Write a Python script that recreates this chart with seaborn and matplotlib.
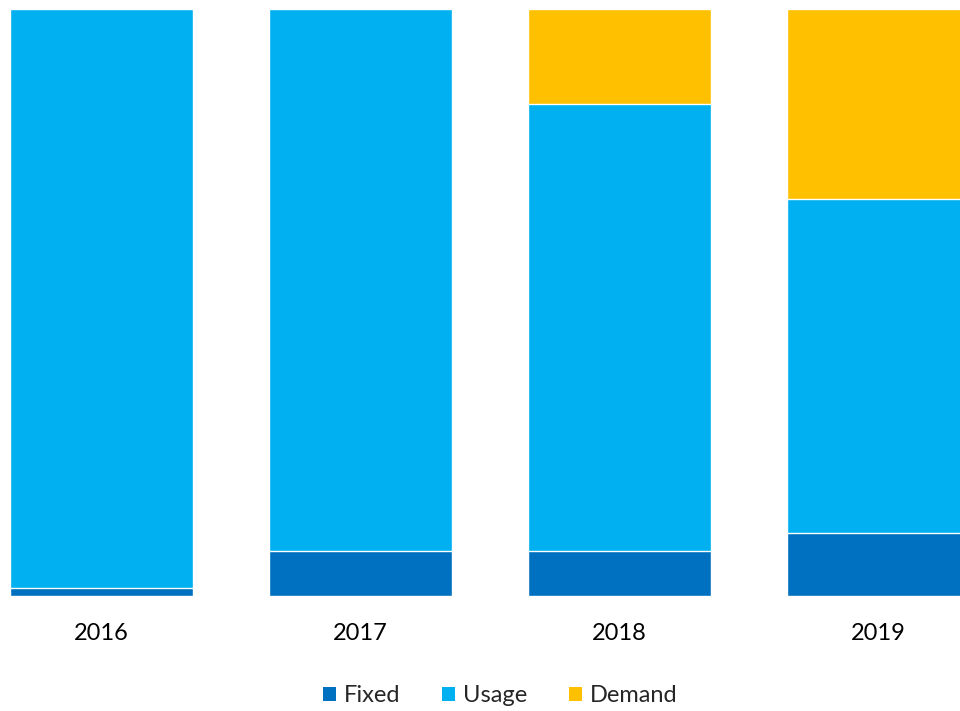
import numpy as np
import pandas as pd
import matplotlib
matplotlib.use("Agg")
import matplotlib.pyplot as plt
from matplotlib.patches import Patch
import seaborn as sns

# Share of each charge component per year (percent)
years = ["2016", "2017", "2018", "2019"]
fixed = [1.4, 7.7, 7.7, 10.7]
usage = [98.6, 92.3, 76.1, 56.9]
demand = [0.0, 0.0, 16.2, 32.4]

components = ["Fixed", "Usage", "Demand"]
colors = {"Fixed": "#0070C0", "Usage": "#00B0F0", "Demand": "#FFC000"}

sns.set_theme(style="white")
plt.rcParams["font.family"] = ["Lato", "DejaVu Sans"]

df = pd.DataFrame({"year": years, "Fixed": fixed, "Usage": usage, "Demand": demand})
df["cum_fixed"] = df["Fixed"]
df["cum_usage"] = df["Fixed"] + df["Usage"]
df["cum_demand"] = df["cum_usage"] + df["Demand"]

fig = plt.figure(figsize=(9.6, 7.11), dpi=100)
ax = fig.add_axes([0.0, 115 / 711, 1.0, 587 / 711])

# Stacked bars drawn back-to-front from cumulative totals
for col, comp in [("cum_demand", "Demand"), ("cum_usage", "Usage"), ("cum_fixed", "Fixed")]:
    sns.barplot(data=df, x="year", y=col, color=colors[comp], width=0.707,
                edgecolor="white", linewidth=1.0, saturation=1, ax=ax)

ax.set_ylim(0, 100)
ax.set_xlim(-101.5 / 259, (960 - 101.5) / 259)
ax.set_xlabel("")
ax.set_ylabel("")
ax.set_yticks([])
ax.tick_params(axis="x", length=0, pad=19.5, labelsize=17, labelcolor="#000000")
sns.despine(ax=ax, left=True, bottom=True)

handles = [Patch(facecolor=colors[c], edgecolor="none", label=c) for c in components]
fig.legend(handles=handles, loc="center", bbox_to_anchor=(0.521, 15 / 711),
           ncol=3, frameon=False, fontsize=17, handlelength=0.55, handleheight=0.55,
           handletextpad=0.35, columnspacing=1.75)

fig.savefig("out.png", dpi=100, facecolor="white")
